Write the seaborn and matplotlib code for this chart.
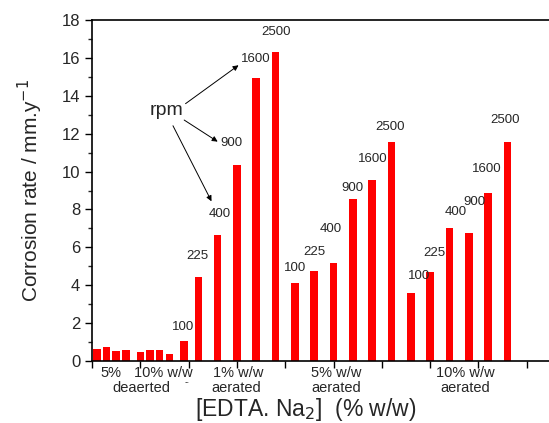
import numpy as np
import pandas as pd
import seaborn as sns
import matplotlib.pyplot as plt
from matplotlib.ticker import MultipleLocator, NullFormatter

# bar positions on the (unlabelled) x axis
x_deaer_5 = [0.5, 1.5, 2.5, 3.5]
x_deaer_10 = [5, 6, 7, 8]
x_aer_1 = [9.5, 11, 13, 15, 17, 19]
x_aer_5 = [21, 23, 25, 27, 29, 31]
x_aer_10 = [33, 35, 37, 39, 41, 43]

# corrosion rates, mm/y
rate_deaer_5 = [0.62, 0.72, 0.51, 0.56]
rate_deaer_10 = [0.48, 0.56, 0.60, 0.39]
rate_aer_1 = [1.04, 4.45, 6.65, 10.35, 14.92, 16.33]
rate_aer_5 = [4.13, 4.77, 5.16, 8.54, 9.56, 11.55]
rate_aer_10 = [3.61, 4.68, 7.00, 6.74, 8.85, 11.56]

rpm = ['100', '225', '400', '900', '1600', '2500']

# where the rpm labels sit (data coords)
lab_x_1 = [9.45, 10.9, 13.18, 14.46, 16.98, 19.05]
lab_y_1 = [1.81, 5.56, 7.78, 11.49, 15.96, 17.35]
lab_x_5 = [21.02, 23.01, 24.71, 26.99, 29.06, 30.85]
lab_y_5 = [4.89, 5.74, 6.95, 9.12, 10.66, 12.37]
lab_x_10 = [33.85, 35.40, 37.68, 39.54, 40.89, 42.75]
lab_y_10 = [4.49, 5.70, 7.87, 8.39, 10.14, 12.72]

df = pd.DataFrame({
    'x': x_deaer_5 + x_deaer_10 + x_aer_1 + x_aer_5 + x_aer_10,
    'rate': rate_deaer_5 + rate_deaer_10 + rate_aer_1 + rate_aer_5 + rate_aer_10,
})

sns.set_style('ticks')
plt.rcParams['font.family'] = ['Liberation Sans', 'DejaVu Sans']

fig = plt.figure(figsize=(5.49, 4.23), dpi=100)
# axes runs off the right edge like the original crop
ax = fig.add_axes([0.1676, 0.1466, 0.8798, 0.806])

sns.barplot(data=df, x='x', y='rate', native_scale=True, color='#ff0000',
            saturation=1, width=0.78, edgecolor='none', linewidth=0, ax=ax)

ax.set_xlim(0, 50)
ax.set_ylim(0, 18)
ax.xaxis.set_major_locator(MultipleLocator(5))
ax.xaxis.set_major_formatter(NullFormatter())
ax.yaxis.set_major_locator(MultipleLocator(2))
ax.yaxis.set_minor_locator(MultipleLocator(1))
ax.tick_params(axis='both', which='major', direction='out', length=5, width=1,
               labelsize=12, color='black')
ax.tick_params(axis='y', which='minor', direction='out', length=3, width=1)
for s in ax.spines.values():
    s.set_linewidth(1.2)
    s.set_color('black')

ax.set_xlabel('')
ax.set_ylabel('Corrosion rate / mm.y$^{-1}$', fontsize=15, labelpad=12)

# rpm labels over the bars
for lx, ly in ((lab_x_1, lab_y_1), (lab_x_5, lab_y_5), (lab_x_10, lab_y_10)):
    for t, xx, yy in zip(rpm, lx, ly):
        ax.text(xx, yy, t, ha='center', va='center', fontsize=9.5)

# rpm callout with arrows
ax.text(7.7, 13.2, 'rpm', ha='center', va='center', fontsize=14)
arrow = dict(arrowstyle='-|>', color='black', lw=0.7, mutation_scale=8)
ax.annotate('', xy=(15.4, 15.7), xytext=(9.45, 13.5), arrowprops=arrow)
ax.annotate('', xy=(13.25, 11.5), xytext=(9.3, 12.8), arrowprops=arrow)
ax.annotate('', xy=(12.5, 8.3), xytext=(8.25, 12.55), arrowprops=arrow)

# group labels under the axis
trans = ax.get_xaxis_transform()
fs = 10.5
ax.text(2.0, -0.035, '5%', transform=trans, ha='center', va='center', fontsize=fs)
ax.text(7.4, -0.035, '10% w/w', transform=trans, ha='center', va='center', fontsize=fs)
ax.text(5.15, -0.08, 'deaerted', transform=trans, ha='center', va='center', fontsize=fs)
ax.text(9.8, -0.064, '--', transform=trans, ha='center', va='center', fontsize=5)
ax.text(15.15, -0.035, '1% w/w', transform=trans, ha='center', va='center', fontsize=fs)
ax.text(14.9, -0.08, 'aerated', transform=trans, ha='center', va='center', fontsize=fs)
ax.text(25.3, -0.035, '5% w/w', transform=trans, ha='center', va='center', fontsize=fs)
ax.text(25.3, -0.08, 'aerated', transform=trans, ha='center', va='center', fontsize=fs)
ax.text(38.6, -0.035, '10% w/w', transform=trans, ha='center', va='center', fontsize=fs)
ax.text(38.6, -0.08, 'aerated', transform=trans, ha='center', va='center', fontsize=fs)

fig.text(0.556, 0.031, '[EDTA. Na$_2$]  (% w/w)', ha='center', va='center', fontsize=16.5)

fig.savefig('out.png', dpi=100)
